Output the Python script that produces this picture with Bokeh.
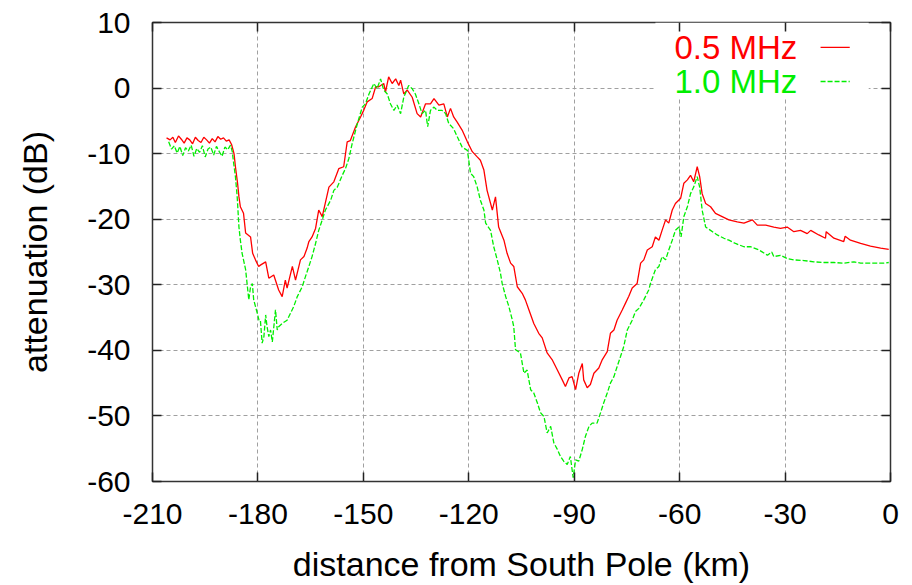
from bokeh.plotting import figure
from bokeh.models import (ColumnDataSource, Range1d, FixedTicker, LinearAxis, Label,
                          BoxAnnotation, PrintfTickFormatter)
from bokeh.embed import file_html
from bokeh.resources import INLINE

# ---------------- data ----------------
red_km = [-206.0, -205.0, -204.2, -203.5, -202.6, -201.8, -201.0, -200.2, -199.4, -198.6,
          -197.8, -197.0, -196.2, -195.4, -194.6, -193.8, -193.0, -192.2, -191.4, -190.6,
          -189.8, -189.0, -188.2, -187.5, -186.8, -186.4, -185.8, -185.4, -185.0, -184.1,
          -183.5, -182.1, -181.5, -180.7, -179.8, -179.3, -177.8, -176.9, -175.5, -174.1,
          -173.1, -172.2, -171.7, -170.2, -169.3, -167.9, -166.9, -166.0, -165.5, -164.6,
          -163.6, -162.7, -161.7, -159.8, -158.4, -157.0, -155.6, -154.6, -153.7, -152.2,
          -150.8, -149.9, -148.9, -147.5, -146.5, -145.6, -144.2, -143.7, -142.8, -141.8,
          -140.8, -139.9, -139.4, -138.5, -137.5, -136.1, -134.7, -133.7, -132.3, -130.9,
          -129.9, -128.5, -127.1, -126.1, -125.2, -124.3, -123.3, -121.9, -120.4, -119.0,
          -117.6, -116.7, -115.7, -114.8, -113.3, -112.4, -111.5, -110.0, -109.1, -108.1,
          -107.2, -106.2, -104.8, -103.9, -102.9, -101.5, -100.1, -99.1, -97.7, -96.3,
          -94.8, -93.4, -92.5, -91.5, -90.6, -89.6, -88.7, -87.7, -87.3, -86.3,
          -85.4, -84.4, -83.0, -82.0, -80.6, -79.7, -78.7, -77.8, -76.3, -75.4,
          -74.5, -73.5, -72.1, -71.1, -70.2, -69.2, -67.8, -66.9, -65.9, -65.0,
          -64.0, -63.1, -62.1, -61.2, -59.7, -58.8, -57.8, -56.9, -56.0, -55.0,
          -54.3, -53.6, -52.6, -51.2, -49.8, -47.9, -46.0, -43.6, -41.7, -39.3,
          -37.9, -35.5, -33.2, -31.3, -29.4, -27.5, -25.6, -23.7, -22.7, -20.4,
          -18.5, -18.3, -16.1, -13.3, -12.9, -11.4, -8.5, -5.7, -2.8, -0.5]
red_db = [-7.6, -7.9, -7.5, -8.3, -7.3, -7.8, -8.4, -7.6, -7.9, -8.5,
          -7.5, -8.0, -8.3, -7.5, -7.9, -8.4, -7.7, -8.2, -7.4, -7.8,
          -7.6, -8.1, -7.9, -8.6, -10.0, -12.0, -14.5, -16.6, -18.1, -19.1,
          -22.1, -22.7, -25.2, -26.2, -27.2, -27.0, -26.5, -29.0, -28.5, -30.8,
          -31.8, -29.3, -30.5, -27.2, -29.3, -26.2, -25.7, -24.4, -23.4, -22.7,
          -21.4, -18.6, -19.6, -15.1, -14.3, -12.3, -12.0, -8.2, -8.0, -5.9,
          -4.4, -3.4, -2.1, -1.6, 0.2, 0.2, 0.7, -0.6, 1.7, 0.7,
          1.4, 0.4, 1.2, -0.9, -0.3, -1.4, -3.9, -4.4, -2.4, -2.4,
          -1.6, -2.6, -2.4, -4.4, -3.1, -4.4, -5.2, -6.4, -8.2, -9.7,
          -10.5, -11.0, -12.5, -15.6, -18.6, -16.6, -21.2, -23.2, -25.2, -26.7,
          -27.2, -30.3, -31.3, -32.3, -33.8, -35.9, -37.4, -38.1, -40.4, -41.4,
          -43.0, -44.5, -45.5, -44.2, -44.0, -46.0, -43.5, -42.0, -44.5, -45.7,
          -45.2, -43.5, -42.7, -41.4, -40.2, -37.4, -36.9, -35.4, -33.8, -32.8,
          -31.8, -30.5, -29.8, -26.7, -26.2, -24.7, -24.2, -22.7, -23.2, -21.7,
          -20.1, -20.6, -18.6, -17.6, -16.8, -14.5, -14.0, -13.3, -14.3, -12.0,
          -13.5, -16.1, -17.6, -18.1, -19.1, -19.6, -20.1, -20.4, -20.6, -20.1,
          -20.9, -20.9, -21.2, -21.4, -21.2, -21.9, -21.7, -22.2, -21.7, -22.4,
          -22.9, -21.9, -22.9, -23.4, -22.6, -23.2, -23.7, -24.1, -24.4, -24.6]

green_km = [-205.4, -204.6, -203.8, -203.0, -202.2, -201.4, -200.6, -199.8, -199.0, -198.2,
            -197.4, -196.6, -195.8, -195.0, -194.2, -193.4, -192.6, -191.8, -191.0, -190.2,
            -189.4, -188.6, -187.8, -187.3, -186.9, -186.4, -185.9, -185.4, -185.0, -184.5,
            -183.5, -182.6, -182.1, -181.6, -181.2, -180.2, -179.7, -179.3, -178.8, -178.3,
            -177.8, -177.4, -176.9, -176.4, -175.9, -175.0, -174.5, -174.1, -173.1, -171.7,
            -170.7, -169.8, -168.8, -167.4, -166.5, -165.5, -164.6, -163.6, -162.7, -161.7,
            -160.8, -159.3, -158.4, -157.4, -156.0, -155.1, -154.1, -153.2, -151.7, -150.3,
            -149.4, -148.4, -147.0, -146.1, -145.1, -144.2, -143.2, -142.3, -141.3, -140.4,
            -139.4, -138.5, -137.1, -136.1, -135.2, -134.2, -133.3, -132.3, -131.7, -130.9,
            -129.9, -129.0, -127.6, -126.6, -125.7, -124.3, -123.3, -121.9, -120.4, -119.5,
            -118.6, -117.6, -116.7, -115.7, -115.2, -113.8, -112.9, -111.9, -111.0, -110.5,
            -109.5, -108.6, -107.6, -107.2, -106.7, -105.3, -104.3, -103.4, -102.4, -101.5,
            -100.5, -99.6, -98.6, -97.7, -96.7, -95.8, -94.8, -93.9, -93.0, -92.0,
            -91.1, -90.3, -89.6, -88.7, -87.7, -86.8, -85.8, -84.9, -83.5, -82.5,
            -81.6, -80.6, -79.7, -78.7, -77.8, -76.8, -75.9, -74.9, -73.5, -72.6,
            -71.6, -70.2, -68.8, -68.3, -66.9, -65.9, -65.0, -64.0, -63.1, -62.1,
            -61.2, -60.2, -59.6, -58.8, -57.8, -56.9, -56.0, -55.0, -54.3, -53.6,
            -52.6, -51.2, -49.3, -47.4, -46.0, -44.1, -41.7, -39.8, -37.4, -35.0,
            -33.8, -33.2, -31.3, -29.4, -27.5, -24.6, -21.8, -19.0, -16.1, -13.3,
            -10.4, -8.5, -5.7, -1.9, -0.5]
green_db = [-8.2, -9.3, -8.8, -9.9, -8.9, -10.3, -9.1, -9.6, -8.7, -10.4,
            -9.2, -9.8, -8.8, -10.5, -9.3, -9.0, -10.2, -8.9, -9.7, -10.4,
            -9.0, -9.4, -8.7, -9.7, -11.5, -13.5, -16.6, -21.2, -23.2, -25.2,
            -27.7, -32.3, -30.3, -29.8, -32.3, -34.3, -35.4, -35.4, -38.9, -37.9,
            -34.6, -36.4, -37.9, -36.9, -38.7, -33.8, -36.9, -36.4, -35.9, -35.4,
            -34.3, -33.3, -31.8, -30.3, -28.8, -27.2, -25.7, -23.7, -21.7, -20.1,
            -18.6, -17.1, -15.6, -15.1, -13.3, -12.3, -10.7, -8.5, -5.4, -2.9,
            -2.4, -0.9, 0.7, -0.1, 1.4, -0.3, -0.9, -2.4, -3.4, -2.6,
            -3.9, -1.4, 0.4, -0.1, -0.9, -2.4, -3.9, -3.4, -5.9, -3.4,
            -2.9, -3.4, -3.4, -3.9, -5.4, -6.2, -7.4, -9.0, -9.5, -13.0,
            -13.5, -15.1, -17.1, -18.6, -20.6, -21.7, -24.2, -26.2, -28.2, -29.8,
            -31.8, -33.3, -35.4, -36.4, -39.9, -40.4, -43.5, -43.0, -46.0, -46.5,
            -48.0, -49.5, -50.1, -52.6, -51.6, -54.1, -55.1, -56.2, -56.9, -57.4,
            -56.2, -59.4, -56.7, -56.9, -55.1, -53.1, -51.6, -51.1, -51.1, -49.5,
            -48.0, -46.5, -45.0, -44.0, -42.5, -40.9, -39.4, -36.9, -35.4, -34.1,
            -33.6, -32.3, -30.8, -29.8, -27.7, -27.2, -25.7, -26.2, -24.7, -23.2,
            -21.7, -21.2, -22.7, -19.6, -18.1, -16.1, -15.1, -13.5, -15.1, -18.6,
            -21.2, -21.7, -22.4, -22.9, -23.2, -23.7, -24.2, -24.2, -24.7, -25.5,
            -25.0, -25.7, -25.5, -26.0, -26.2, -26.3, -26.5, -26.6, -26.6, -26.7,
            -26.5, -26.7, -26.7, -26.7, -26.6]

x_ticks = [-210, -180, -150, -120, -90, -60, -30, 0]
y_ticks = [-60, -50, -40, -30, -20, -10, 0, 10]
series_names = ["0.5 MHz", "1.0 MHz"]
series_colors = ["#ff0000", "#00ee00"]

FONT = "Liberation Sans"

p = figure(width=912, height=585, output_backend="svg", toolbar_location=None,
           x_range=Range1d(-210, 0), y_range=Range1d(-60, 10),
           min_border_left=152, min_border_right=22, min_border_top=22, min_border_bottom=103)
p.background_fill_color = "white"
p.border_fill_color = "white"
p.outline_line_color = "#333333"
p.outline_line_width = 1.5

for ax in (p.xaxis[0], p.yaxis[0]):
    ax.axis_line_color = None
    ax.major_tick_in = 9
    ax.major_tick_out = 0
    ax.minor_tick_line_color = None
    ax.major_tick_line_color = "#222222"
    ax.major_tick_line_width = 1.5
    ax.major_label_text_font = FONT
    ax.major_label_text_font_size = "30px"
    ax.major_label_text_color = "black"
    ax.axis_label_text_font = FONT
    ax.axis_label_text_font_size = "34px"
    ax.axis_label_text_font_style = "normal"
    ax.axis_label_text_color = "black"
    ax.formatter = PrintfTickFormatter(format="%d")

p.xaxis.ticker = FixedTicker(ticks=x_ticks)
p.yaxis.ticker = FixedTicker(ticks=y_ticks)
p.xaxis.axis_label = "distance from South Pole (km)"
p.yaxis.axis_label = "attenuation (dB)"
p.xaxis.major_label_standoff = 22
p.xaxis.axis_label_standoff = 18
p.yaxis.major_label_standoff = 22
p.yaxis.axis_label_standoff = 30

# mirrored ticks (right / top), drawn as label-less minor ticks
for loc, tick_vals in (("right", y_ticks), ("above", x_ticks)):
    ax = LinearAxis(ticker=FixedTicker(ticks=[], minor_ticks=tick_vals))
    ax.axis_line_color = None
    ax.major_tick_line_color = None
    ax.minor_tick_in = 9
    ax.minor_tick_out = 0
    ax.minor_tick_line_color = "#222222"
    ax.minor_tick_line_width = 1.5
    ax.major_label_standoff = 0
    p.add_layout(ax, loc)

p.grid.grid_line_color = "#a0a0a0"
p.grid.grid_line_dash = "4 3"
p.grid.grid_line_width = 1
p.xgrid.ticker = FixedTicker(ticks=x_ticks)
p.ygrid.ticker = FixedTicker(ticks=y_ticks)

# blank key area
p.add_layout(BoxAnnotation(left=-66.9, right=-6.2, bottom=-1.4, top=10,
                           fill_color="white", fill_alpha=1.0, line_color=None,
                           level="underlay"))

src_r = ColumnDataSource(dict(x=red_km, y=red_db))
src_g = ColumnDataSource(dict(x=green_km, y=green_db))
p.line("x", "y", source=src_r, line_color=series_colors[0], line_width=1.3)
p.line("x", "y", source=src_g, line_color=series_colors[1], line_width=1.3, line_dash="5 2")

# key (gnuplot style: title on the left, line sample on the right)
key_sample_x = [-19.9, -11.6]
key_rows_y = [6.2, 1.0]
key_sample_dash = ["solid", "5 2"]
for name, col, ky, dash in zip(series_names, series_colors, key_rows_y, key_sample_dash):
    p.line(key_sample_x, [ky, ky], line_color=col, line_width=1.3, line_dash=dash)
    p.add_layout(Label(x=-26.5, y=ky, text=name, text_color=col, text_font=FONT,
                       text_font_size="33px", text_align="right", text_baseline="middle"))

open("out.html", "w").write(file_html(p, INLINE))
